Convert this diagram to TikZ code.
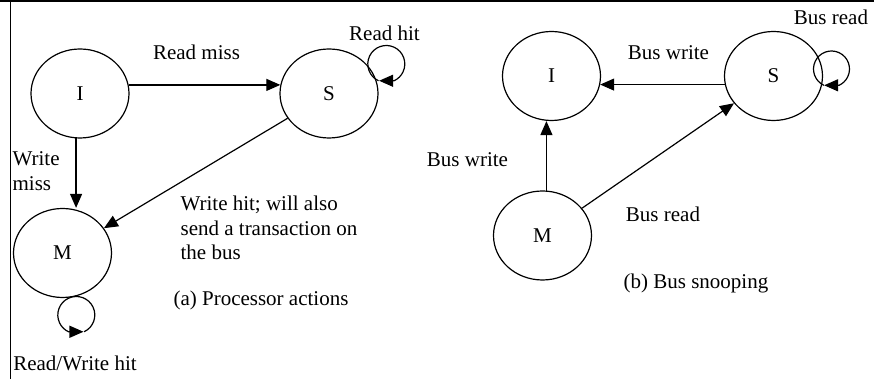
\documentclass[tikz,border=0pt]{standalone}
\usepackage{fontspec}
\setmainfont{Liberation Serif}
\usetikzlibrary{shapes.geometric,arrows.meta,calc}

\begin{document}
\begin{tikzpicture}[x=0.5pt, y=0.5pt, line width=0.6pt,
		font=\fontsize{10.5}{12.4}\selectfont,
		state/.style={draw, ellipse, minimum width=49pt, minimum height=44.5pt, inner sep=0pt},
		arr/.style={-{Triangle[length=7pt, width=6pt]}},
		lbl/.style={inner sep=0pt, align=left}]
		\useasboundingbox (0,0) rectangle (874,379);
		\draw (0,378) -- (874,378);
		\draw (10.5,379) -- (10.5,0);

		% (a) processor actions
		\node[state] (I1) at (80,285.5) {I};
		\node[state] (S1) at (329,285.5) {S};
		\node[state] (M1) at (62.5,126) {M};
		\draw[arr] (I1.10) -- (S1.170);
		\draw[arr] (I1.265) -- (I1.265 |- M1.north);
		\draw[arr] (S1) -- (M1);
		\draw[arr] ($(S1.center)+(57.3,29.5)$) ++(245:18.5) arc[start angle=245, end angle=-65, radius=18.5] -- ++(-15,0);
		\draw[arr] ($(M1.center)+(13.8,-62)$) ++(-65:18.5) arc[start angle=-65, end angle=245, radius=18.5] -- ++(15,0);
		\node[lbl] (readmiss) at (196.5,327) {Read miss};
		\node[lbl] (readhit) at (384.5,346) {Read hit};
		\node[lbl, anchor=west] (writemiss) at (12,208) {Write\\miss};
		\node[lbl, anchor=west] (writehit) at (180,151) {Write hit; will also\\send a transaction on\\the bus};
		\node[lbl] (capa) at (261,79) {(a) Processor actions};
		\node[lbl] (rwhit) at (75,16) {Read/Write hit};

		% (b) bus snooping
		\node[state] (I2) at (551.5,303) {I};
		\node[state] (S2) at (773.5,303) {S};
		\node[state] (M2) at (542.5,143.5) {M};
		\draw[arr] (S2.190) -- (I2.350);
		\draw[arr] (M2.85) -- (M2.85 |- I2.south);
		\draw[arr] (M2) -- (S2);
		\draw[arr] ($(S2.center)+(58,7)$) ++(245:18) arc[start angle=245, end angle=-65, radius=18] -- ++(-15,0);
		\node[lbl] (busreadtop) at (831,362) {Bus read};
		\node[lbl] (buswritetop) at (668.5,326) {Bus write};
		\node[lbl] (buswriteleft) at (467.5,219) {Bus write};
		\node[lbl] (busreadlow) at (663,165) {Bus read};
		\node[lbl] (capb) at (696,96) {(b) Bus snooping};
	\end{tikzpicture}
\end{document}
